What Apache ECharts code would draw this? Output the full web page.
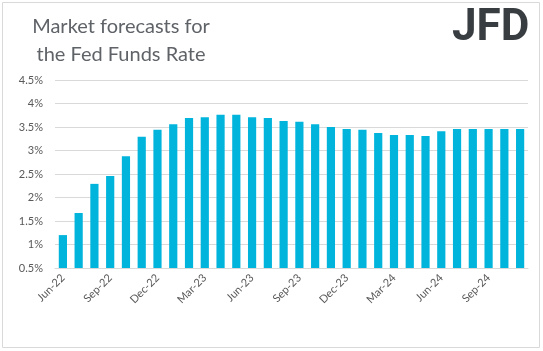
<!DOCTYPE html>
<html>
<head>
<meta charset="utf-8">
<script src="https://cdn.jsdelivr.net/npm/echarts@6/dist/echarts.min.js"></script>
<style>
  html, body { margin: 0; padding: 0; background: #fff; }
  #chart { width: 543px; height: 351px; }
</style>
</head>
<body>
<div id="chart"></div>
<script>
// months Jun-22 .. Nov-24
const months = [
  'Jun-22', 'Jul-22', 'Aug-22', 'Sep-22', 'Oct-22', 'Nov-22',
  'Dec-22', 'Jan-23', 'Feb-23', 'Mar-23', 'Apr-23', 'May-23',
  'Jun-23', 'Jul-23', 'Aug-23', 'Sep-23', 'Oct-23', 'Nov-23',
  'Dec-23', 'Jan-24', 'Feb-24', 'Mar-24', 'Apr-24', 'May-24',
  'Jun-24', 'Jul-24', 'Aug-24', 'Sep-24', 'Oct-24', 'Nov-24'
];
// implied rate, %
const rates = [
  1.20, 1.67, 2.29, 2.46, 2.88, 3.29,
  3.44, 3.56, 3.69, 3.71, 3.76, 3.76,
  3.71, 3.69, 3.63, 3.61, 3.56, 3.50,
  3.46, 3.44, 3.37, 3.33, 3.33, 3.31,
  3.41, 3.46, 3.46, 3.46, 3.46, 3.46
];
const titleLines = ['Market forecasts for', 'the Fed Funds Rate'];

const chart = echarts.init(document.getElementById('chart'));
const grey = '#595959';
const font = 'Lato, "Open Sans", sans-serif';

chart.setOption({
  animation: false,
  title: {
    text: titleLines.join('\n'),
    left: 116,
    top: 8,
    textAlign: 'center',
    textStyle: { fontFamily: font, fontSize: 20, fontWeight: 'normal', color: '#5f6368', lineHeight: 28 }
  },
  graphic: [
    {
      type: 'rect',
      shape: { x: 2.5, y: 2.5, width: 537, height: 345 },
      style: { fill: 'none', stroke: '#d9d9d9', lineWidth: 1 }
    },
    {
      type: 'text',
      left: 452,
      top: 7,
      style: { text: 'JFD', fontFamily: 'Roboto, sans-serif', fontSize: 44, fontWeight: 'bold', fill: '#383d42' }
    }
  ],
  grid: { left: 55, right: 15, top: 80, bottom: 83 },
  xAxis: {
    type: 'category',
    data: months,
    axisLine: { lineStyle: { color: '#d9d9d9' } },
    axisTick: { interval: 2, length: 5, lineStyle: { color: '#d9d9d9' } },
    axisLabel: { interval: 2, rotate: 45, color: grey, fontFamily: font, fontSize: 11, margin: 8 }
  },
  yAxis: {
    type: 'value',
    min: 0.5,
    max: 4.5,
    interval: 0.5,
    axisLine: { show: false },
    axisTick: { show: false },
    splitLine: { lineStyle: { color: '#d9d9d9' } },
    axisLabel: { formatter: v => v + '%', color: grey, fontFamily: font, fontSize: 11, margin: 12 }
  },
  series: [{
    type: 'bar',
    data: rates,
    barWidth: '52%',
    itemStyle: { color: '#00b4dc' }
  }]
});
</script>
</body>
</html>
